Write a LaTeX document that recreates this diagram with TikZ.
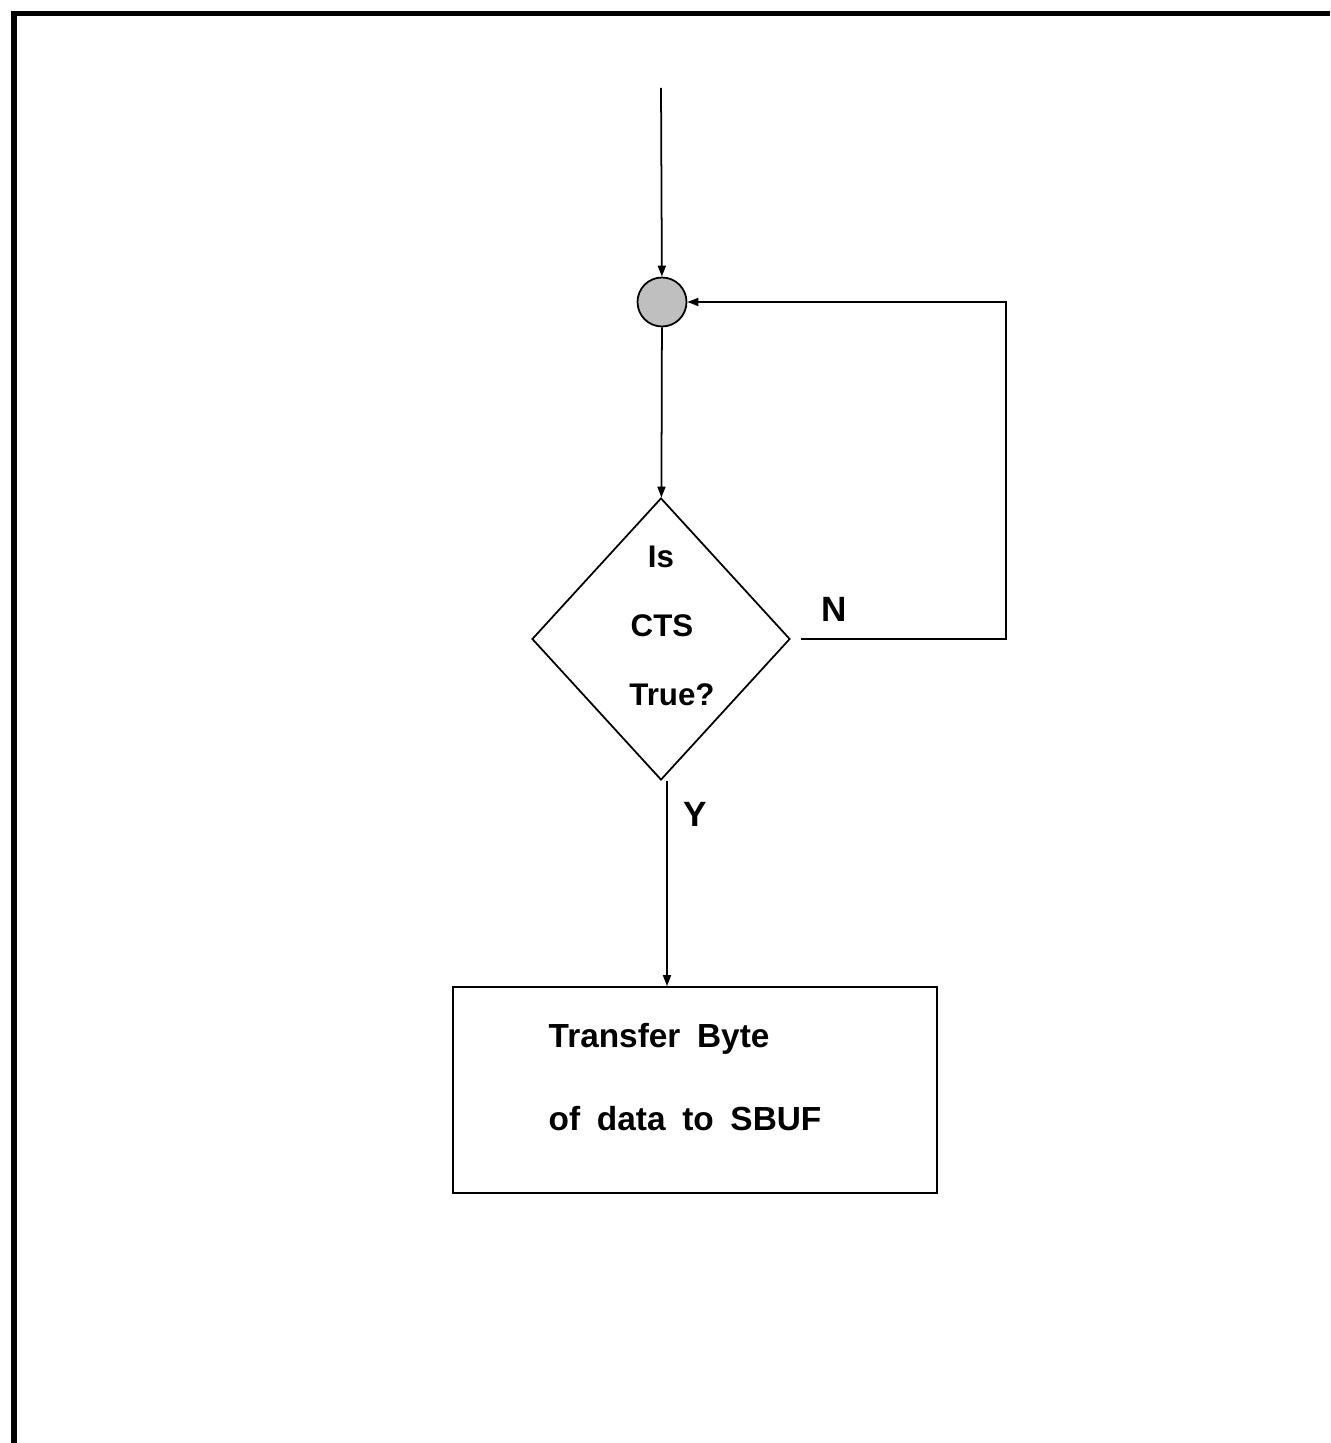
\documentclass[tikz,border=0pt]{standalone}
\usepackage{fontspec}
\setmainfont{Liberation Sans}
\newfontfamily\boxfont[WordSpace=1.8]{Liberation Sans}
\usetikzlibrary{shapes.geometric,arrows.meta}

\tikzset{
    flowline/.style={line width=0.5pt},
    arr/.style={flowline, -{Triangle[length=1.1mm, width=0.8mm]}},
    lbl/.style={inner sep=0, font=\bfseries\fontsize{8.9}{10}\selectfont},
    boxlbl/.style={inner sep=0, font=\boxfont\bfseries\fontsize{9.5}{11}\selectfont},
    yn/.style={inner sep=0, font=\bfseries\fontsize{10}{12}\selectfont},
}

\begin{document}
\begin{tikzpicture}[x=0.1mm, y=-0.1mm]

        \pgfmathsetmacro{\W}{1330}
        \pgfmathsetmacro{\H}{1443}
        \useasboundingbox (0,0) rectangle (\W,\H);

        % 1. 枠（上と左だけ）
        \draw[line width=1.5pt] (\W,13.5) -- (14,13.5) -- (14,\H);

        % 2. 合流点と判断ひし形
        \coordinate (start) at (661,88);
        \node[circle, draw, flowline, fill=gray!50, minimum size=4.9mm, inner sep=0]
            (merge) at (662,302) {};
        \node[diamond, draw, flowline, minimum width=2.58cm, minimum height=2.82cm,
            inner sep=0] (cts) at (661,639) {};

        \node[lbl, anchor=base] (isTxt)   at (661,568) {Is};
        \node[lbl, anchor=base] (ctsTxt)  at (662,637) {CTS};
        \node[lbl, anchor=base] (trueTxt) at (672,705) {True?};

        % 3. 転送ボックス
        \node[draw, flowline, minimum width=4.84cm, minimum height=2.06cm, inner sep=0]
            (xfer) at (695,1090) {};
        \node[boxlbl, anchor=base west] (xferA) at (548,1047) {Transfer Byte};
        \node[boxlbl, anchor=base west] (xferB) at (548,1130) {of data to SBUF};

        % 4. 矢印と分岐ラベル
        \draw[arr] (start) -- (merge);
        \draw[arr] (merge) -- (cts);
        \draw[arr] ([xshift=1mm]cts.east) -- ++(205,0) |- (merge.east);
        \draw[arr] ([xshift=0.6mm]cts.south) -- ([xshift=0.6mm]cts.south |- xfer.north);

        \node[yn, anchor=base] (nTxt) at (834,622) {N};
        \node[yn, anchor=base] (yTxt) at (695,826) {Y};
    \end{tikzpicture}
\end{document}
